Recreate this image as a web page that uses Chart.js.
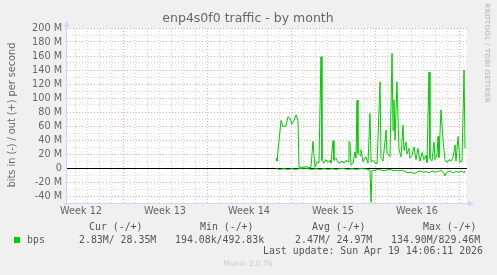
<!DOCTYPE html>
<html>
<head>
<meta charset="utf-8">
<script src="https://cdn.jsdelivr.net/npm/chart.js@4"></script>
<style>
  html, body { margin: 0; padding: 0; background: #f0f0f0; }
  canvas { display: block; }
</style>
</head>
<body>
<canvas id="trafficChart" width="497" height="275"></canvas>
<script>
// time in days since start of week 12, values in Mbit/s
const outTimes = [19.75, 19.83, 20.17, 20.33, 20.58, 20.75, 20.92, 21.08, 21.25, 21.42, 21.58, 21.67,
  22.00, 22.25, 22.50, 22.67, 22.83, 23.00, 23.17, 23.33, 23.50, 23.58, 23.75, 23.92, 24.08, 24.25,
  24.33, 24.50, 24.58, 24.75, 24.92, 25.08, 25.25, 25.42, 25.58, 25.75, 25.83, 25.92, 26.00, 26.17,
  26.33, 26.42, 26.50, 26.58, 26.75, 26.83, 27.00, 27.17, 27.25, 27.42, 27.58, 27.67, 27.83, 28.00,
  28.17, 28.42, 28.50, 28.67, 28.92, 29.00, 29.25, 29.42, 29.50, 29.58, 29.67, 29.83, 30.00, 30.17,
  30.33, 30.42, 30.58, 30.67, 30.83, 30.92, 31.08, 31.25, 31.42, 31.58, 31.75, 31.92, 32.08, 32.25,
  32.33, 32.50, 32.58, 32.75, 32.92, 33.00, 33.17, 33.25, 33.33, 33.50, 33.67, 33.83, 34.00, 34.17,
  34.33, 34.50, 34.67, 34.75, 34.92, 35.08, 35.25, 35.42, 35.50];
const outValues = [14, 10, 68, 59, 60, 73, 71, 63, 68, 76, 68, 1,
  1, 2, 0.5, 1, 38, 1, 9, 7, 159, 11, 7, 12, 8, 11,
  7, 39, 11, 14, 8, 7, 10, 7, 11, 9, 38, 35, 4, 7,
  23, 14, 97, 21, 18, 26, 9, 14, 16, 7, 78, 9, 11, 7,
  6, 123, 14, 10, 54, 21, 16, 164, 54, 97, 40, 123, 26, 16,
  61, 25, 37, 20, 28, 14, 18, 30, 12, 28, 10, 22, 12, 18,
  8, 137, 14, 10, 37, 12, 20, 45, 15, 83, 40, 12, 8, 12,
  10, 15, 33, 10, 45, 8, 10, 140, 28];

const inTimes = [19.75, 20.08, 20.42, 20.75, 21.08, 21.42, 21.67, 22.08, 22.42, 22.75, 23.08, 23.42,
  23.75, 24.08, 24.42, 24.75, 25.08, 25.42, 25.75, 26.08, 26.42, 26.75, 27.08, 27.42, 27.58, 27.67,
  27.75, 28.00, 28.25, 28.50, 28.75, 29.00, 29.25, 29.50, 29.75, 30.00, 30.25, 30.50, 30.75, 31.00,
  31.25, 31.50, 31.75, 32.00, 32.25, 32.50, 32.75, 33.00, 33.25, 33.50, 33.75, 33.83, 34.00, 34.25,
  34.50, 34.75, 35.00, 35.25, 35.42, 35.50];
const inValues = [-1, -2, -1, -2, -1, -2, -1, 0, -1, -2, -1, -2,
  -1, -2, -1, -2, -1, -1, -2, -1, -2, -1, -1, -2, -3, -49,
  -3, -4, -2, -3, -4, -3, -2, -4, -3, -4, -3, -5, -7, -6,
  -8, -6, -4, -6, -5, -7, -4, -6, -5, -3, -8, -11, -6, -4,
  -7, -5, -6, -4, -7, -4];

const weekLabels = ["Week 12", "Week 13", "Week 14", "Week 15", "Week 16"];
const weekStarts = [0, 7, 14, 21, 28];
const yGridValues = [-40, -30, -20, -10, 0, 10, 20, 30, 40, 50, 60, 70, 80, 90, 100,
  110, 120, 130, 140, 150, 160, 170, 180, 190, 200];

const title = "enp4s0f0 traffic - by month";
const yTitle = "bits in (-) / out (+) per second";
const legendHeaders = ["Cur (-/+)", "Min (-/+)", "Avg (-/+)", "Max (-/+)"];
const legendValues = ["2.83M/ 28.35M", "194.08k/492.83k", "2.47M/ 24.97M", "134.90M/829.46M"];
const lastUpdate = "Last update: Sun Apr 19 14:06:11 2026";

const green = "#00cc00";
const sans = "'DejaVu Sans', sans-serif";
const mono = "'DejaVu Sans Mono', monospace";

function toPoints(xs, ys) {
  return xs.map((x, i) => ({ x: x, y: ys[i] }));
}

// x ticks: every day for the grid, plus mid-week positions for the labels
let xTickValues = [];
for (let d = 3; d <= 35; d++) xTickValues.push(d);
weekStarts.forEach((w) => xTickValues.push(w + 3.5));
xTickValues.sort((a, b) => a - b);

const muninDecor = {
  id: "muninDecor",
  beforeDraw(chart) {
    const { ctx, chartArea: a } = chart;
    ctx.save();
    ctx.fillStyle = "#f0f0f0";
    ctx.fillRect(0, 0, chart.width, chart.height);
    ctx.fillStyle = "#ffffff";
    ctx.fillRect(a.left, a.top, a.right - a.left, a.bottom - a.top);
    ctx.restore();
  },
  afterDraw(chart) {
    const { ctx, chartArea: a } = chart;
    ctx.save();

    // axes + arrows
    ctx.strokeStyle = "#cfd6f8";
    ctx.fillStyle = "#cfd6f8";
    ctx.lineWidth = 1;
    ctx.beginPath();
    ctx.moveTo(a.left - 0.5, a.top - 4);
    ctx.lineTo(a.left - 0.5, a.bottom + 3);
    ctx.moveTo(a.left - 3, a.bottom + 0.5);
    ctx.lineTo(a.right + 3, a.bottom + 0.5);
    ctx.stroke();
    ctx.beginPath();
    ctx.moveTo(a.left - 3.5, a.top - 1);
    ctx.lineTo(a.left + 2.5, a.top - 1);
    ctx.lineTo(a.left - 0.5, a.top - 7);
    ctx.closePath();
    ctx.fill();
    ctx.beginPath();
    ctx.moveTo(a.right + 1, a.bottom - 2.5);
    ctx.lineTo(a.right + 1, a.bottom + 3.5);
    ctx.lineTo(a.right + 7, a.bottom + 0.5);
    ctx.closePath();
    ctx.fill();

    // title
    ctx.fillStyle = "#666666";
    ctx.textBaseline = "middle";
    ctx.textAlign = "center";
    ctx.font = "12.5px " + sans;
    ctx.fillText(title, 248, 19);

    // y axis title
    ctx.save();
    ctx.translate(12, 115);
    ctx.rotate(-Math.PI / 2);
    ctx.font = "9.7px " + sans;
    ctx.fillText(yTitle, 0, 0);
    ctx.restore();

    // rrdtool credit
    ctx.save();
    ctx.translate(487, 53);
    ctx.rotate(Math.PI / 2);
    ctx.fillStyle = "#c8c8c8";
    ctx.font = "bold 7px " + sans;
    ctx.fillText("RRDTOOL / TOBI OETIKER", 0, 0);
    ctx.restore();

    // legend
    ctx.textAlign = "left";
    ctx.font = "9.9px " + mono;
    ctx.fillStyle = "#555555";
    const headX = [89, 200, 312, 423];
    const valX = [79, 175, 295, 391];
    legendHeaders.forEach((h, i) => ctx.fillText(h, headX[i], 227.5));
    legendValues.forEach((v, i) => ctx.fillText(v, valX[i], 240));
    ctx.fillText("bps", 27, 240);
    ctx.fillStyle = green;
    ctx.fillRect(14, 237, 6, 6);
    ctx.fillStyle = "#555555";
    ctx.textAlign = "right";
    ctx.fillText(lastUpdate, 483, 251.5);

    ctx.textAlign = "center";
    ctx.fillStyle = "#cccccc";
    ctx.font = "7.5px " + sans;
    ctx.fillText("Munin 2.0.76", 248, 264);
    ctx.restore();
  },
};

const ctx = document.getElementById("trafficChart").getContext("2d");

new Chart(ctx, {
  type: "line",
  data: {
    datasets: [
      {
        label: "out",
        data: toPoints(outTimes, outValues),
        borderColor: green,
        borderWidth: 1,
        pointRadius: 0,
        tension: 0,
      },
      {
        label: "in",
        data: toPoints(inTimes, inValues),
        borderColor: green,
        borderWidth: 1,
        pointRadius: 0,
        tension: 0,
      },
    ],
  },
  options: {
    responsive: false,
    devicePixelRatio: 1,
    animation: false,
    layout: {
      padding: { left: 0, top: 28, right: 30, bottom: 0 },
    },
    plugins: {
      legend: { display: false },
      tooltip: { enabled: false },
    },
    scales: {
      x: {
        type: "linear",
        min: 7 / 3,
        max: 107 / 3,
        afterBuildTicks: (scale) => {
          scale.ticks = xTickValues.map((v) => ({ value: v }));
        },
        afterFit: (scale) => {
          scale.height = 72;
        },
        border: { display: false, dash: [1, 2] },
        grid: {
          drawTicks: false,
          color: (c) => {
            const v = c.tick ? c.tick.value : 0;
            if (v % 1 !== 0) return "rgba(0,0,0,0)";
            return v % 7 === 0 ? "#f0a8a8" : "#d8d8d8";
          },
        },
        ticks: {
          autoSkip: false,
          maxRotation: 0,
          padding: 3,
          color: "#666666",
          font: { family: sans, size: 9.7 },
          callback: (v) => {
            const i = weekStarts.findIndex((w) => w + 3.5 === v);
            return i >= 0 ? weekLabels[i] : "";
          },
        },
      },
      y: {
        min: -50,
        max: 200,
        afterBuildTicks: (scale) => {
          scale.ticks = yGridValues.map((v) => ({ value: v }));
        },
        afterFit: (scale) => {
          scale.width = 67;
        },
        border: {
          display: false,
          dash: (c) => (c.tick && c.tick.value === 0 ? [] : [1, 2]),
        },
        grid: {
          drawTicks: false,
          color: (c) => {
            const v = c.tick ? c.tick.value : 1;
            if (v === 0) return "#000000";
            return v % 20 === 0 ? "#f0a8a8" : "#d8d8d8";
          },
        },
        ticks: {
          autoSkip: false,
          padding: 5,
          color: "#666666",
          font: { family: sans, size: 9.7 },
          callback: (v) => {
            if (v % 20 !== 0) return "";
            return v === 0 ? "0" : v + " M";
          },
        },
      },
    },
  },
  plugins: [muninDecor],
});
</script>
</body>
</html>
